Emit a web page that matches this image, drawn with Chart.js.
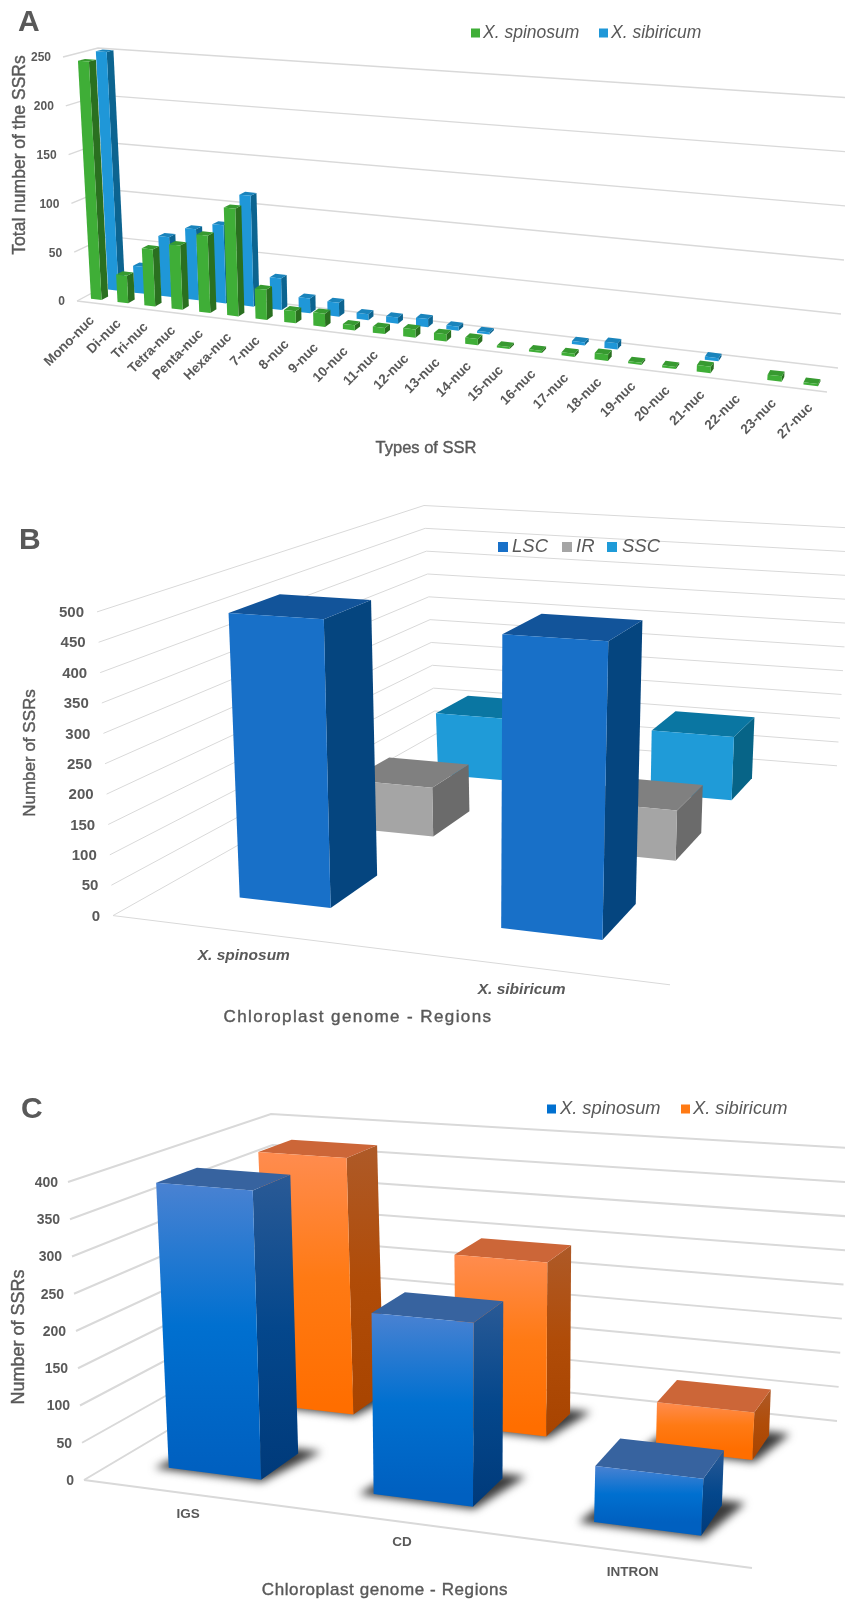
<!DOCTYPE html>
<html>
<head>
<meta charset="utf-8">
<title>SSR charts</title>
<script src="https://cdn.jsdelivr.net/npm/chart.js@4"></script>
<style>
  html, body { margin: 0; padding: 0; background: #fff; overflow: hidden; }
  canvas { display: block; }
</style>
</head>
<body>
<canvas id="chartA" width="845" height="470"></canvas>
<canvas id="chartB" width="845" height="570"></canvas>
<canvas id="chartC" width="845" height="563"></canvas>
<script>
// Panel A
const ssrTypes = ["Mono-nuc", "Di-nuc", "Tri-nuc", "Tetra-nuc", "Penta-nuc", "Hexa-nuc", "7-nuc", "8-nuc", "9-nuc", "10-nuc", "11-nuc", "12-nuc", "13-nuc", "14-nuc", "15-nuc", "16-nuc", "17-nuc", "18-nuc", "19-nuc", "20-nuc", "21-nuc", "22-nuc", "23-nuc", "27-nuc"];
const spinosumTypes = [245, 28, 58, 65, 78, 108, 30, 12, 13, 5, 6, 8, 7, 6, 2, 2, 3, 6, 2, 2, 6, 0, 5, 2];
const sibiricumTypes = [250, 28, 62, 73, 80, 113, 32, 15, 14, 6, 6, 8, 4, 2, 0, 0, 3, 6, 0, 0, 3, 0, 0, 0];
const ticksA = [0, 50, 100, 150, 200, 250];

// Panel B
const species = ["X. spinosum", "X. sibiricum"];
const lscCounts = [480, 475];
const irCounts = [90, 90];
const sscCounts = [125, 125];
const ticksB = [0, 50, 100, 150, 200, 250, 300, 350, 400, 450, 500];

// Panel C
const regions = ["IGS", "CD", "INTRON"];
const spinosumRegions = [390, 240, 72];
const sibiricumRegions = [380, 250, 66];
const ticksC = [0, 50, 100, 150, 200, 250, 300, 350, 400];

const FONT = '"Liberation Sans", Arial, sans-serif';
const TEXT = "#595959";

// maps the unit square onto a quad [front-left, front-right, back-right, back-left]
function homography(q) {
  const [p0, p1, p2, p3] = q;
  const dx1 = p1[0] - p2[0], dx2 = p3[0] - p2[0], sx = p0[0] - p1[0] + p2[0] - p3[0];
  const dy1 = p1[1] - p2[1], dy2 = p3[1] - p2[1], sy = p0[1] - p1[1] + p2[1] - p3[1];
  const den = dx1 * dy2 - dx2 * dy1;
  const g = (sx * dy2 - dx2 * sy) / den;
  const h = (dx1 * sy - sx * dy1) / den;
  return (u, v) => {
    const w = g * u + h * v + 1;
    return [
      ((p1[0] - p0[0] + g * p1[0]) * u + (p3[0] - p0[0] + h * p3[0]) * v + p0[0]) / w,
      ((p1[1] - p0[1] + g * p1[1]) * u + (p3[1] - p0[1] + h * p3[1]) * v + p0[1]) / w,
    ];
  };
}

function poly(ctx, pts) {
  ctx.beginPath();
  pts.forEach((p, i) => (i ? ctx.lineTo(p[0], p[1]) : ctx.moveTo(p[0], p[1])));
  ctx.closePath();
}

function text(ctx, str, x, y, font, align, spacing, weight) {
  ctx.font = font;
  ctx.textAlign = align || "left";
  ctx.textBaseline = "middle";
  ctx.letterSpacing = spacing || "0px";
  ctx.fillText(str, x, y);
  if (weight) {
    ctx.lineWidth = weight;
    ctx.strokeStyle = ctx.fillStyle;
    ctx.strokeText(str, x, y);
  }
  ctx.letterSpacing = "0px";
}

const lerp = (a, b, s) => [a[0] + (b[0] - a[0]) * s, a[1] + (b[1] - a[1]) * s];
const dist = (a, b) => Math.hypot(a[0] - b[0], a[1] - b[1]);

// Draws the bars as boxes standing on a tilted floor. Positions come from
// the chart's own scales and bar elements, then get projected.
const perspectivePlugin = {
  id: "perspective",
  beforeDatasetsDraw(chart, args, o) {
    const ctx = chart.ctx;
    const area = chart.chartArea;
    const floor = homography(o.floor);
    const rise = o.roof.map((r, i) => [r[0] - o.floor[i][0], r[1] - o.floor[i][1]]);
    const project = (u, v, t) => {
      const p = floor(u, v), a = floor(0, v), b = floor(1, v);
      const s = (p[0] - a[0]) / (b[0] - a[0]);
      const riseL = lerp(rise[0], rise[3], dist(a, floor(0, 0)) / dist(floor(0, 1), floor(0, 0)));
      const riseR = lerp(rise[1], rise[2], dist(b, floor(1, 0)) / dist(floor(1, 1), floor(1, 0)));
      const r = lerp(riseL, riseR, s);
      return [p[0] + r[0] * t, p[1] + r[1] * t];
    };
    const toU = (px) => (px - area.left) / area.width;
    const toT = (px) => (area.bottom - px) / area.height;

    ctx.save();
    ctx.translate(0, -o.top);

    // walls and floor lines
    const yScale = chart.scales.y;
    yScale.ticks.forEach((tick) => {
      const t = toT(yScale.getPixelForValue(tick.value));
      const a = project(0, 0, t), b = project(0, 1, t), c = project(1, 1, t);
      ctx.strokeStyle = "#d9d9d9";
      ctx.lineWidth = o.gridWidth;
      ctx.beginPath();
      ctx.moveTo(a[0], a[1]);
      ctx.lineTo(b[0], b[1]);
      ctx.lineTo(c[0], c[1]);
      ctx.stroke();
      ctx.fillStyle = TEXT;
      text(ctx, String(tick.value), a[0] - o.tickGap, a[1] + 1, "bold " + o.tickFont + " " + FONT, "right");
    });
    const f0 = project(0, 0, 0), f1 = project(1, 0, 0);
    ctx.strokeStyle = "#d9d9d9";
    ctx.lineWidth = o.gridWidth;
    ctx.beginPath();
    ctx.moveTo(f0[0], f0[1]);
    ctx.lineTo(f1[0], f1[1]);
    ctx.stroke();

    // boxes, back row first
    const boxes = [];
    chart.data.datasets.forEach((ds, i) => {
      const v = o.rows[i];
      chart.getDatasetMeta(i).data.forEach((el, j) => {
        if (!ds.data[j]) return;
        boxes.push({
          ds, v,
          uL: toU(el.x - el.width / 2),
          uR: toU(el.x + el.width / 2),
          t: toT(el.y),
        });
      });
    });

    if (o.shadow) {
      ctx.save();
      ctx.filter = "blur(4px)";
      ctx.fillStyle = "#3a3a3a";
      boxes.forEach((b) => {
        poly(ctx, [
          project(b.uL - 0.02, b.v - 0.012, 0), project(b.uR + 0.005, b.v - 0.012, 0),
          project(b.uR + 0.03, b.v + o.depth + 0.03, 0), project(b.uL, b.v + o.depth + 0.03, 0),
        ]);
        ctx.fill();
      });
      ctx.restore();
    }

    for (let i = chart.data.datasets.length - 1; i >= 0; i--) {
      boxes.filter((b) => b.ds === chart.data.datasets[i]).reverse().forEach((b) => {
        const d = o.depth;
        const fl = project(b.uL, b.v, 0), fr = project(b.uR, b.v, 0);
        const tl = project(b.uL, b.v, b.t), tr = project(b.uR, b.v, b.t);
        const br = project(b.uR, b.v + d, 0), trb = project(b.uR, b.v + d, b.t), tlb = project(b.uL, b.v + d, b.t);

        const fill = (colors, y0, y1) => {
          if (typeof colors === "string") return colors;
          const g = ctx.createLinearGradient(0, y0, 0, y1);
          colors.forEach((c, k) => g.addColorStop(k / (colors.length - 1), c));
          return g;
        };
        ctx.fillStyle = fill(b.ds.sideColor, trb[1], fr[1]);
        poly(ctx, [fr, br, trb, tr]);
        ctx.fill();
        ctx.fillStyle = b.ds.topColor;
        poly(ctx, [tl, tr, trb, tlb]);
        ctx.fill();
        ctx.fillStyle = fill(b.ds.frontColor, tl[1], fl[1]);
        poly(ctx, [fl, fr, tr, tl]);
        ctx.fill();
      });
    }

    // category labels
    ctx.fillStyle = TEXT;
    const xScale = chart.scales.x;
    chart.data.labels.forEach((label, i) => {
      const p = project(toU(xScale.getPixelForValue(i)), 0, 0);
      const x = p[0] + o.labelOffset[0], y = p[1] + o.labelOffset[1];
      if (o.labelAngle) {
        ctx.save();
        ctx.translate(x, y);
        ctx.rotate(o.labelAngle);
        text(ctx, label, 0, 0, o.labelFont + " " + FONT, "right");
        ctx.restore();
      } else {
        text(ctx, label, x, y, o.labelFont + " " + FONT, "center");
      }
    });

    // panel letter, axis titles
    text(ctx, o.letter[0], o.letter[1], o.letter[2], "bold 30px " + FONT);
    ctx.save();
    ctx.translate(o.yTitle[1], o.yTitle[2]);
    ctx.rotate(-Math.PI / 2);
    text(ctx, o.yTitle[0], 0, 0, o.yTitle[3] + " " + FONT, "center", null, 0.4);
    ctx.restore();
    text(ctx, o.xTitle[0], o.xTitle[1], o.xTitle[2], o.xTitle[3] + " " + FONT, "center", o.xTitle[4], 0.4);

    // legend
    chart.data.datasets.forEach((ds, i) => {
      const l = o.legend[i];
      const c = ds.frontColor;
      ctx.fillStyle = typeof c === "string" ? c : c[1];
      ctx.fillRect(l[0], o.legendY - l[2] / 2, l[2], l[2]);
      ctx.fillStyle = TEXT;
      text(ctx, ds.label, l[1], o.legendY, "italic " + o.legendFont + " " + FONT);
    });

    ctx.restore();
    return false;
  },
};

function makeChart(id, labels, datasets, ticks, barPercentage, perspective) {
  return new Chart(document.getElementById(id), {
    type: "bar",
    data: { labels, datasets },
    plugins: [perspectivePlugin],
    options: {
      responsive: false,
      animation: false,
      devicePixelRatio: 1,
      layout: { padding: 0 },
      datasets: { bar: { grouped: false, categoryPercentage: 1, barPercentage } },
      plugins: { legend: { display: false }, tooltip: { enabled: false }, perspective },
      scales: {
        x: { display: false },
        y: {
          display: false,
          min: ticks[0],
          max: ticks[ticks.length - 1],
          ticks: { stepSize: ticks[1] - ticks[0] },
        },
      },
    },
  });
}

makeChart("chartA", ssrTypes, [
  { label: "X. spinosum", data: spinosumTypes, frontColor: "#3fae37", topColor: "#379a30", sideColor: "#2a7020" },
  { label: "X. sibiricum", data: sibiricumTypes, frontColor: "#1f97d8", topColor: "#1a84bc", sideColor: "#0c6490" },
], ticksA, 0.4, {
  top: 0,
  floor: [[77, 301], [827, 392], [838, 368], [110, 283.5]],
  roof: [[63, 57], [843, 114], [853, 98], [98, 48]],
  rows: [0.18, 0.7],
  depth: 0.2,
  gridWidth: 1.4,
  tickGap: 12,
  tickFont: "12px",
  labelFont: "bold 13.5px",
  labelAngle: -Math.PI / 4,
  labelOffset: [2, 16],
  letter: ["A", 18, 23],
  yTitle: ["Total number of the SSRs", 20, 155, "17.5px"],
  xTitle: ["Types of SSR", 426, 448, "16.5px"],
  legend: [[471, 483, 9], [599, 611, 9]],
  legendY: 33,
  legendFont: "17.5px",
});

makeChart("chartB", species, [
  { label: "LSC", data: lscCounts, frontColor: "#1870c8", topColor: "#12549a", sideColor: "#05457f" },
  { label: "IR", data: irCounts, frontColor: "#a5a5a5", topColor: "#808080", sideColor: "#6b6b6b" },
  { label: "SSC", data: sscCounts, frontColor: "#1f9bd8", topColor: "#0a76a2", sideColor: "#076487" },
], ticksB, 0.36, {
  top: 470,
  floor: [[113, 915.6], [670, 984.8], [837, 765.8], [436, 733.8]],
  roof: [[97, 611.9], [680, 651], [852, 528], [424, 505.5]],
  rows: [0.11, 0.43, 0.745],
  depth: 0.135,
  gridWidth: 1,
  tickGap: 13,
  tickFont: "15px",
  labelFont: "italic bold 15.5px",
  labelOffset: [3, 24],
  letter: ["B", 19, 541],
  yTitle: ["Number of SSRs", 30, 753, "17px"],
  xTitle: ["Chloroplast genome - Regions", 358, 1017, "17px", "1.4px"],
  legend: [[498, 512, 10], [562, 576, 10], [607, 622, 10]],
  legendY: 547,
  legendFont: "18.5px",
});

makeChart("chartC", regions, [
  { label: "X. spinosum", data: spinosumRegions, frontColor: ["#4a82d2", "#0070d0", "#0060c0"], topColor: "#37639f", sideColor: ["#2a5a96", "#04478c", "#003a7a"] },
  { label: "X. sibiricum", data: sibiricumRegions, frontColor: ["#ff8c4f", "#ff7a14", "#ff6e00"], topColor: "#cc6638", sideColor: ["#ae5a28", "#b04c08", "#a84400"] },
], ticksC, 0.46, {
  top: 1040,
  floor: [[84, 1480], [752, 1568], [837, 1421], [283, 1362]],
  roof: [[68, 1182], [767, 1239], [850, 1148], [271, 1114]],
  rows: [0.135, 0.64],
  depth: 0.19,
  gridWidth: 2,
  tickGap: 10,
  tickFont: "14px",
  labelFont: "bold 13.5px",
  labelOffset: [3, 20.5],
  shadow: true,
  letter: ["C", 21, 1110],
  yTitle: ["Number of SSRs", 19, 1337, "18px"],
  xTitle: ["Chloroplast genome - Regions", 385, 1590, "17px", "0.6px"],
  legend: [[547, 560, 9], [681, 693, 9]],
  legendY: 1109,
  legendFont: "18.3px",
});
</script>
</body>
</html>
